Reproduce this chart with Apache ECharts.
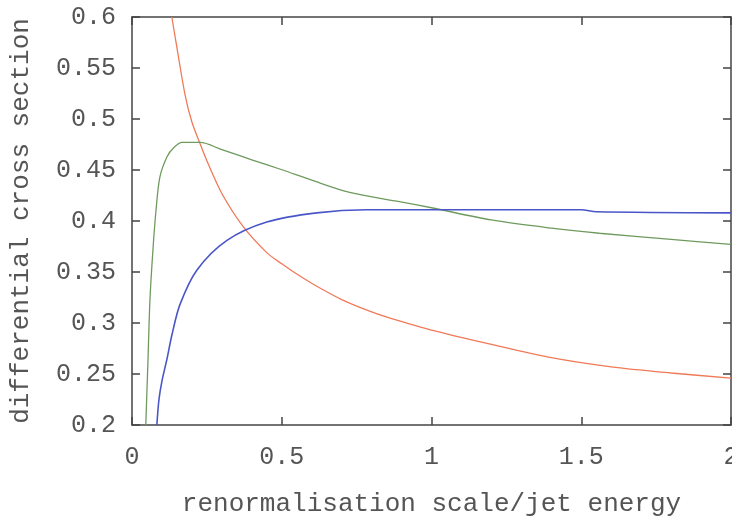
<!DOCTYPE html>
<html>
<head>
<meta charset="utf-8">
<script src="https://cdn.jsdelivr.net/npm/echarts@6/dist/echarts.min.js"></script>
<style>html,body{margin:0;padding:0;background:#fff}#c{width:732px;height:522px}</style>
</head>
<body>
<div id="c"></div>
<script>
var xTicks = [0, 0.5, 1, 1.5, 2];
var yTicks = [0.2, 0.25, 0.3, 0.35, 0.4, 0.45, 0.5, 0.55, 0.6];

var redX = [0.133, 0.15, 0.177, 0.2, 0.227, 0.25, 0.3, 0.37, 0.45, 0.5, 0.55, 0.617, 0.7, 0.8, 0.893, 1.0, 1.2, 1.4, 1.6, 1.8, 2.0];
var redY = [0.6, 0.57, 0.524, 0.497, 0.476, 0.459, 0.427, 0.395, 0.369, 0.358, 0.348, 0.336, 0.323, 0.311, 0.302, 0.293, 0.279, 0.266, 0.257, 0.251, 0.246];

var greenX = [0.046, 0.053, 0.06, 0.07, 0.08, 0.093, 0.117, 0.14, 0.167, 0.227, 0.3, 0.4, 0.503, 0.6, 0.727, 0.893, 1.0, 1.2, 1.4, 1.56, 1.8, 2.0];
var greenY = [0.2, 0.26, 0.323, 0.372, 0.41, 0.443, 0.463, 0.472, 0.477, 0.477, 0.47, 0.46, 0.45, 0.44, 0.428, 0.419, 0.413, 0.401, 0.393, 0.388, 0.382, 0.377];

var blueX = [0.083, 0.09, 0.1, 0.117, 0.133, 0.16, 0.217, 0.317, 0.45, 0.617, 0.783, 1.0, 1.5, 1.55, 2.0];
var blueY = [0.2, 0.225, 0.243, 0.265, 0.288, 0.318, 0.352, 0.381, 0.399, 0.408, 0.411, 0.411, 0.411, 0.409, 0.408];

function pairs(xs, ys) { return xs.map(function (x, i) { return [x, ys[i]]; }); }

var font = 'Liberation Mono, DejaVu Sans Mono, monospace';
var txt = '#555';
var frame = '#444';

function xAx(pos, show) {
  return {
    type: 'value', position: pos, min: 0, max: 2, interval: 0.5,
    axisLine: { show: true, onZero: false, lineStyle: { color: frame, width: 1.5 } },
    axisTick: { show: true, inside: true, length: 8, lineStyle: { color: frame, width: 1.5 } },
    axisLabel: { show: show, margin: 20, color: txt, fontFamily: font, fontSize: 25,
      formatter: function (v) { return String(v); } },
    splitLine: { show: false },
    name: show ? 'renormalisation scale/jet energy' : '',
    nameLocation: 'middle', nameGap: 66,
    nameTextStyle: { color: txt, fontFamily: font, fontSize: 26 }
  };
}
function yAx(pos, show) {
  return {
    type: 'value', position: pos, min: 0.2, max: 0.6, interval: 0.05,
    axisLine: { show: true, onZero: false, lineStyle: { color: frame, width: 1.5 } },
    axisTick: { show: true, inside: true, length: 8, lineStyle: { color: frame, width: 1.5 } },
    axisLabel: { show: show, margin: 16, color: txt, fontFamily: font, fontSize: 25,
      formatter: function (v) { return String(+v.toFixed(2)); } },
    splitLine: { show: false },
    name: show ? 'differential cross section' : '',
    nameLocation: 'middle', nameGap: 98,
    nameTextStyle: { color: txt, fontFamily: font, fontSize: 26 }
  };
}

var chart = echarts.init(document.getElementById('c'), null, { renderer: 'canvas' });
chart.setOption({
  animation: false,
  backgroundColor: '#fff',
  grid: { left: 132, right: 1, top: 17, bottom: 97, containLabel: false, outerBoundsMode: 'none' },
  xAxis: [xAx('bottom', true), xAx('top', false)],
  yAxis: [yAx('left', true), yAx('right', false)],
  series: [
    { type: 'line', data: pairs(redX, redY), showSymbol: false, clip: true, smooth: 0.3,
      lineStyle: { color: '#f07a58', width: 1.3 } },
    { type: 'line', data: pairs(greenX, greenY), showSymbol: false, clip: true, smooth: 0.3,
      lineStyle: { color: '#6f9a5e', width: 1.3 } },
    { type: 'line', data: pairs(blueX, blueY), showSymbol: false, clip: true, smooth: 0.3,
      lineStyle: { color: '#4a56c8', width: 1.6 } }
  ]
});
</script>
</body>
</html>
